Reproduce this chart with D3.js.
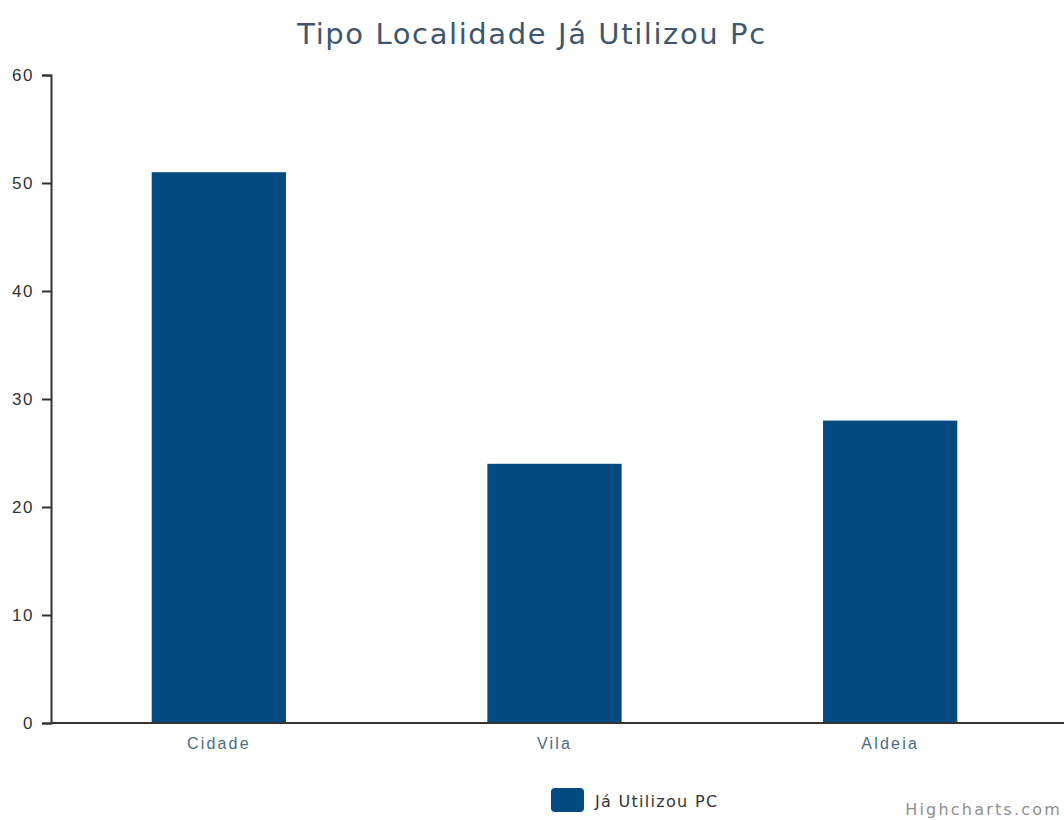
<!DOCTYPE html>
<html>
<head>
<meta charset="utf-8">
<script src="https://cdn.jsdelivr.net/npm/d3@7"></script>
<style>
  body { margin: 0; background: #fff; }
  svg { display: block; font-family: "DejaVu Sans", sans-serif; }
</style>
</head>
<body>
<div class="content"></div>
<script>
(function() {

  // Chart data
  var categories = ['Cidade', 'Vila', 'Aldeia'];
  var values = [51, 24, 28];
  var yTicks = [0, 10, 20, 30, 40, 50, 60];
  var seriesName = 'Já Utilizou PC';
  var title = 'Tipo Localidade Já Utilizou Pc';

  // Design variables
  var width = 1064;
  var height = 820;
  var margin = {top: 75, right: 6, bottom: 97, left: 51};
  var barColor = '#024a80';

  var svg = d3.select('.content').append('svg')
      .attr('width', width)
      .attr('height', height);

  svg.append('text')
      .attr('x', 532)
      .attr('y', 44)
      .attr('text-anchor', 'middle')
      .attr('fill', '#3e576f')
      .style('font-size', '29px')
      .style('letter-spacing', '1.6px')
      .text(title);

  // Scales
  var x = d3.scaleBand()
      .domain(categories)
      .range([margin.left, width - margin.right])
      .paddingInner(0.6)
      .paddingOuter(0.3);

  var y = d3.scaleLinear()
      .domain([0, 60])
      .range([height - margin.bottom, margin.top]);

  // Bars
  svg.append('g').selectAll('rect')
      .data(values)
      .enter()
      .append('rect')
      .attr('x', function(d, i) { return x(categories[i]); })
      .attr('y', function(d) { return y(d); })
      .attr('width', x.bandwidth())
      .attr('height', function(d) { return y(0) - y(d); })
      .attr('fill', barColor);

  // Y axis
  var yAxis = svg.append('g')
      .attr('transform', 'translate(' + margin.left + ',0)')
      .call(d3.axisLeft(y).tickValues(yTicks).tickSize(9).tickPadding(8));
  yAxis.select('.domain').attr('stroke', '#333').attr('stroke-width', 2);
  yAxis.selectAll('.tick line').attr('stroke', '#333').attr('stroke-width', 2);
  yAxis.selectAll('.tick text')
      .attr('fill', '#333')
      .style('font-size', '17px')
      .style('letter-spacing', '1.5px');

  // X axis
  var xAxis = svg.append('g')
      .attr('transform', 'translate(0,' + y(0) + ')')
      .call(d3.axisBottom(x).tickSize(0).tickPadding(15));
  xAxis.select('.domain').attr('stroke', '#333').attr('stroke-width', 2)
      .attr('d', 'M' + margin.left + ',0H' + width);
  xAxis.selectAll('.tick text')
      .attr('fill', '#4d6a85')
      .style('font-size', '16px')
      .style('letter-spacing', '2.2px');

  // Legend
  var legend = svg.append('g')
      .attr('transform', 'translate(551,788)');
  legend.append('rect')
      .attr('width', 33)
      .attr('height', 24)
      .attr('rx', 4)
      .attr('fill', barColor);
  legend.append('text')
      .attr('x', 44)
      .attr('y', 19)
      .attr('fill', '#333')
      .style('font-size', '16px')
      .style('letter-spacing', '1.3px')
      .text(seriesName);

  svg.append('text')
      .attr('x', 1062)
      .attr('y', 815)
      .attr('text-anchor', 'end')
      .attr('fill', '#909090')
      .style('font-size', '16px')
      .style('letter-spacing', '2.2px')
      .text('Highcharts.com');

})();
</script>
</body>
</html>
